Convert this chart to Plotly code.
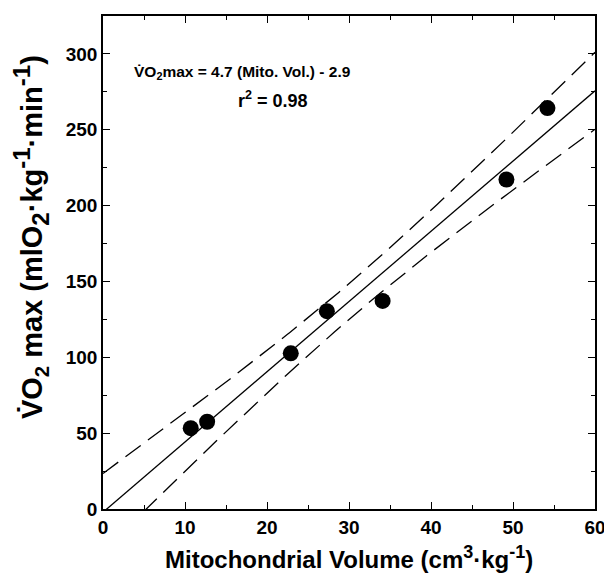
import numpy as np
import plotly.graph_objects as go

# ---- data ----
mito_volume = [10.7, 12.7, 22.9, 27.3, 34.1, 49.2, 54.2]        # cm3/kg
vo2max = [53.3, 57.5, 102.6, 130.4, 137.2, 217.2, 264.3]         # mlO2/kg/min
x_tick_vals = [0, 10, 20, 30, 40, 50, 60]
y_tick_vals = [0, 50, 100, 150, 200, 250, 300]
equation_text = "V\u0307O<sub>2</sub>max = 4.7 (Mito. Vol.) - 2.9"
r2_text = "r<sup>2</sup> = 0.98"

# ---- regression and 95% confidence band computed from the data ----
x = np.array(mito_volume)
y = np.array(vo2max)
n = len(x)
slope, intercept = np.polyfit(x, y, 1)
resid = y - (slope * x + intercept)
s = np.sqrt(np.sum(resid ** 2) / (n - 2))
t_crit = 2.571  # two-sided 95 %, 5 d.f.
sxx = np.sum((x - x.mean()) ** 2)
xs = np.linspace(0, 60, 241)
fit = slope * xs + intercept
half = t_crit * s * np.sqrt(1.0 / n + (xs - x.mean()) ** 2 / sxx)

FONT = "Liberation Sans, Arial, sans-serif"
fig = go.Figure()
fig.add_trace(go.Scatter(x=xs, y=fit, mode="lines",
                         line=dict(color="black", width=1.3), hoverinfo="skip"))
fig.add_trace(go.Scatter(x=xs, y=fit + half, mode="lines",
                         line=dict(color="black", width=1.3, dash="19px,9px"), hoverinfo="skip"))
fig.add_trace(go.Scatter(x=xs, y=fit - half, mode="lines",
                         line=dict(color="black", width=1.3, dash="19px,9px"), hoverinfo="skip"))
fig.add_trace(go.Scatter(x=mito_volume, y=vo2max, mode="markers",
                         marker=dict(color="black", size=16, line=dict(width=0))))

axis_common = dict(
    showgrid=False, zeroline=False, showline=True, linecolor="black", linewidth=1.5,
    mirror="ticks", ticks="inside", ticklen=7, tickwidth=1.3, tickcolor="black",
    tickfont=dict(family=FONT, size=19, color="black", weight="bold"),
)
# page body has an 8px margin, so the figure is drawn 8px right/down
fig.update_layout(
    width=604, height=566, autosize=False,
    margin=dict(l=95, r=14, t=6, b=65, pad=0),
    paper_bgcolor="white", plot_bgcolor="white",
    showlegend=False,
    xaxis=dict(range=[0, 60], tickvals=x_tick_vals,
               minor=dict(dtick=5, tick0=0, ticks="inside", ticklen=4, tickcolor="black", tickwidth=1),
               **axis_common),
    yaxis=dict(range=[0, 325], tickvals=y_tick_vals,
               minor=dict(dtick=25, tick0=0, ticks="inside", ticklen=4, tickcolor="black", tickwidth=1),
               **axis_common),
    font=dict(family=FONT, color="black"),
)

def script(tag, s, px):
    return f"<{tag}><span style='font-size:{px}px'>{s}</span></{tag}>"

fig.add_annotation(xref="paper", yref="paper", x=0.501, y=-0.099, xanchor="center", yanchor="middle",
                   text="Mitochondrial Volume (cm" + script("sup", "3", 18) + "\u00b7kg" + script("sup", "-1", 18) + ")",
                   showarrow=False, font=dict(family=FONT, size=24, color="black", weight="bold"))
fig.add_annotation(xref="paper", yref="paper", x=-0.146, y=0.552, xanchor="center", yanchor="middle",
                   textangle=-90,
                   text="V\u0307O<sub>2</sub> max (mlO" + script("sub", "2", 24) + "\u00b7kg"
                        + script("sup", "-1", 24) + "\u00b7min" + script("sup", "-1", 24) + ")",
                   showarrow=False, font=dict(family=FONT, size=29, color="black", weight="bold"))
fig.add_annotation(xref="paper", yref="paper", x=0.058, y=0.885, xanchor="left", yanchor="middle",
                   text=equation_text, showarrow=False,
                   font=dict(family=FONT, size=15.5, color="black", weight="bold"))
fig.add_annotation(xref="paper", yref="paper", x=0.345, y=0.83, xanchor="center", yanchor="middle",
                   text=r2_text, showarrow=False,
                   font=dict(family=FONT, size=18, color="black", weight="bold"))

fig.write_html("out.html")
